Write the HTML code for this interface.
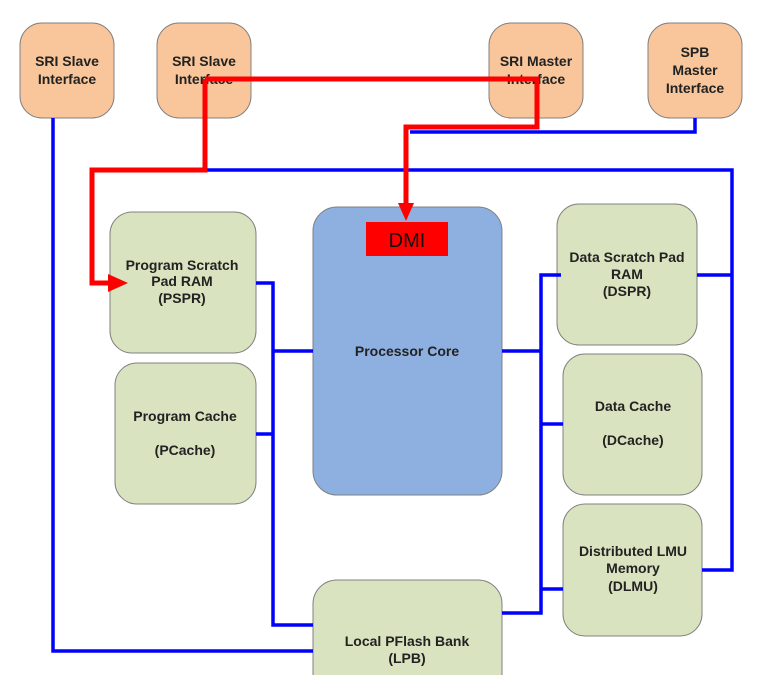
<!DOCTYPE html>
<html><head><meta charset="utf-8"><style>
html,body{margin:0;padding:0;background:#fff;}
svg{display:block;}
text{font-family:"Liberation Sans",Arial,sans-serif;font-weight:bold;font-size:14px;fill:#222;text-anchor:middle;}
</style></head><body>
<svg width="779" height="675" viewBox="0 0 779 675" xmlns="http://www.w3.org/2000/svg">
<g stroke="#808080" stroke-width="1">
<rect x="20" y="23" width="94" height="95" rx="22" fill="#f8c69a"/>
<rect x="157" y="23" width="94" height="95" rx="22" fill="#f8c69a"/>
<rect x="489" y="23" width="94" height="95" rx="22" fill="#f8c69a"/>
<rect x="648" y="23" width="94" height="95" rx="22" fill="#f8c69a"/>
<rect x="110" y="212" width="146" height="141" rx="22" fill="#d9e3bf"/>
<rect x="115" y="363" width="141" height="141" rx="22" fill="#d9e3bf"/>
<rect x="313" y="207" width="189" height="288" rx="24" fill="#8db0e0"/>
<rect x="557" y="204" width="140" height="141" rx="22" fill="#d9e3bf"/>
<rect x="563" y="354" width="139" height="141" rx="22" fill="#d9e3bf"/>
<rect x="563" y="504" width="139" height="132" rx="22" fill="#d9e3bf"/>
<rect x="313" y="580" width="189" height="120" rx="24" fill="#d9e3bf"/>
</g>
<g fill="none" stroke="#0000ff" stroke-width="3.5">
<polyline points="53,118 53,651 313,651"/>
<polyline points="410,132 695,132 695,118"/>
<polyline points="205,170 732,170 732,570 702,570"/>
<polyline points="697,275 732,275"/>
<polyline points="256,283 273,283 273,625 313,625"/>
<polyline points="273,351 313,351"/>
<polyline points="256,434 273,434"/>
<polyline points="561,275 541,275 541,613 502,613"/>
<polyline points="502,351 541,351"/>
<polyline points="541,424 563,424"/>
<polyline points="541,589 563,589"/>
</g>
<text x="67" y="66">SRI Slave</text><text x="67" y="84">Interface</text>
<text x="204" y="66">SRI Slave</text><text x="204" y="84">Interface</text>
<text x="536" y="66">SRI Master</text><text x="536" y="84">Interface</text>
<text x="695" y="57">SPB</text><text x="695" y="75">Master</text><text x="695" y="93">Interface</text>
<text x="182" y="270">Program Scratch</text><text x="182" y="286">Pad RAM</text><text x="182" y="303">(PSPR)</text>
<text x="185" y="421">Program Cache</text><text x="185" y="455">(PCache)</text>
<text x="407" y="356">Processor Core</text>
<text x="627" y="262">Data Scratch Pad</text><text x="627" y="279">RAM</text><text x="627" y="296">(DSPR)</text>
<text x="633" y="411">Data Cache</text><text x="633" y="445">(DCache)</text>
<text x="633" y="556">Distributed LMU</text><text x="633" y="573">Memory</text><text x="633" y="591">(DLMU)</text>
<text x="407" y="646">Local PFlash Bank</text><text x="407" y="663">(LPB)</text>
<g fill="none" stroke="#ff0000" stroke-width="5" stroke-linejoin="miter">
<polyline points="205,79 537,79 537,127 406,127 406,205"/>
<polyline points="205,79 205,170 92,170 92,283 112,283"/>
</g>
<polygon points="398,203 414,203 406,221" fill="#ff0000"/>
<polygon points="108,274 128,283 108,292" fill="#ff0000"/>
<rect x="366" y="222" width="82" height="34" fill="#ff0000"/>
<text x="407" y="247" style="font-weight:normal;font-size:20px;fill:#111">DMI</text>
</svg>
</body></html>
